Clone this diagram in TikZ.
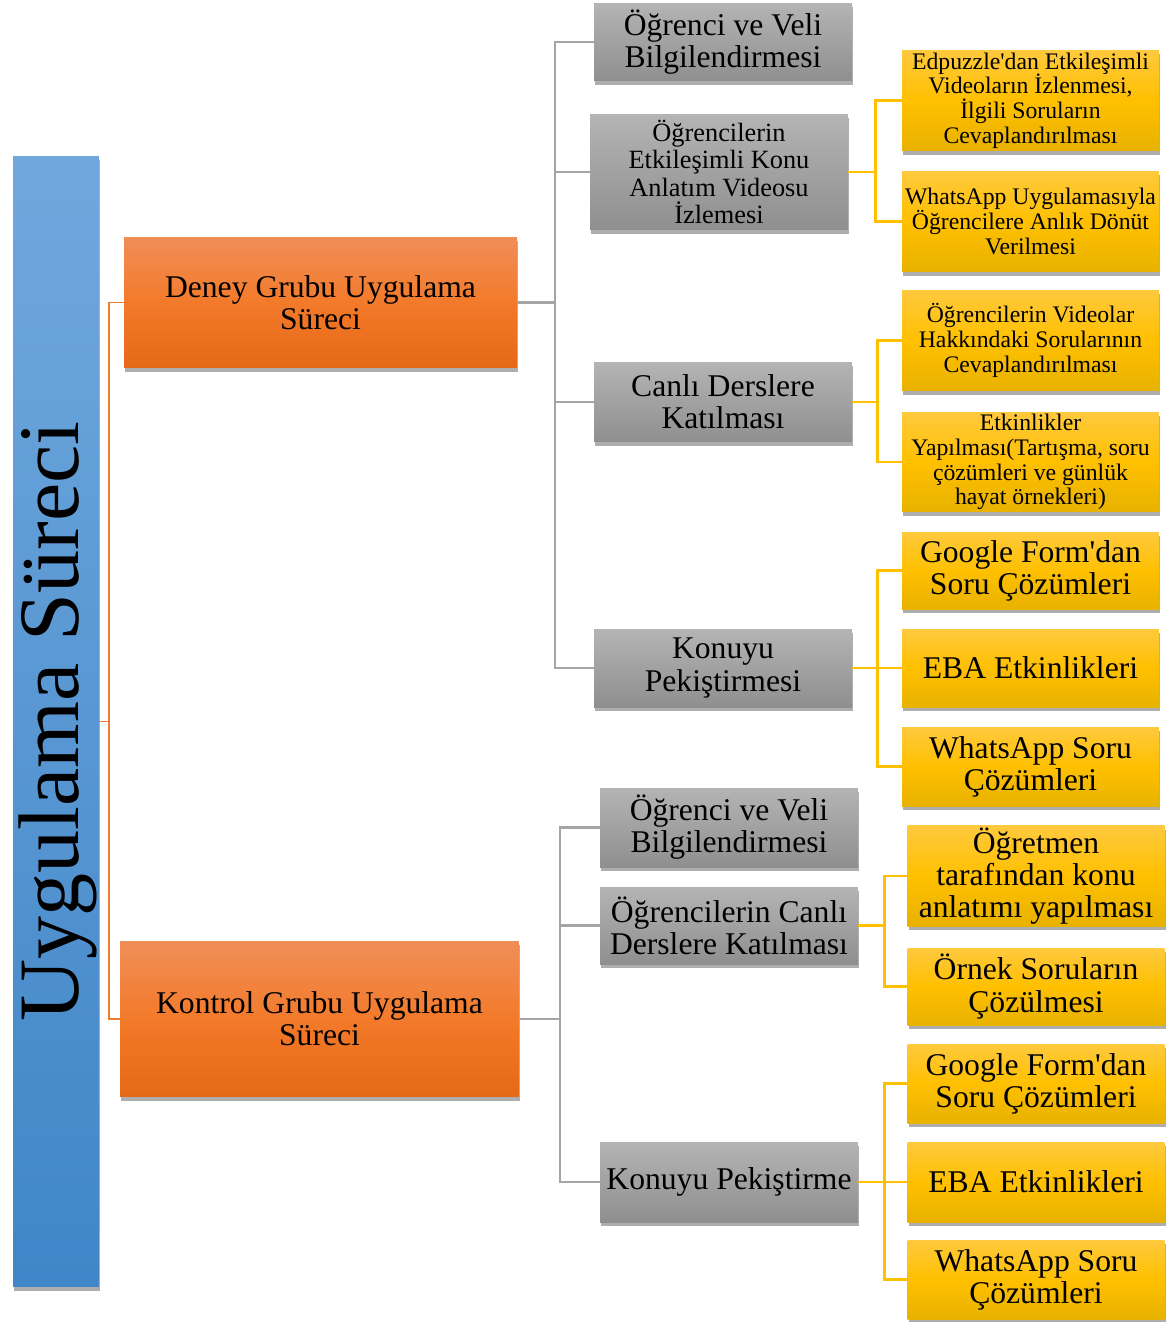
\documentclass[tikz,border=0pt]{standalone}
\usepackage{fontspec}
\setmainfont{Liberation Serif}
\usepackage{tikz}
\usetikzlibrary{shadows,positioning}

\definecolor{bartop}{RGB}{112,168,221}
\definecolor{barbot}{RGB}{64,134,200}
\definecolor{orgtop}{RGB}{240,142,88}
\definecolor{orgmid}{RGB}{243,122,42}
\definecolor{orgbot}{RGB}{229,104,24}
\definecolor{grytop}{RGB}{180,180,180}
\definecolor{grybot}{RGB}{143,143,143}
\definecolor{yeltop}{RGB}{255,201,62}
\definecolor{yelmid}{RGB}{255,192,0}
\definecolor{yelbot}{RGB}{232,178,0}
\definecolor{olinecol}{RGB}{237,125,49}
\definecolor{glinecol}{RGB}{165,165,165}
\definecolor{ylinecol}{RGB}{255,192,0}

\newcommand{\bigtxt}{\fontsize{18}{18.3}\selectfont}
\newcommand{\midtxt}{\fontsize{15}{15.6}\selectfont}
\newcommand{\smalltxt}{\fontsize{13.5}{14.1}\selectfont}

\begin{document}
\begin{tikzpicture}
  [x=0.02cm, y=-0.02cm,
   box/.style={rectangle, inner sep=1pt, align=center,
     drop shadow={shadow xshift=0.8pt, shadow yshift=-2.4pt, opacity=.45, fill=black!70}},
   bluebar/.style={box, minimum width=1.72cm, minimum height=22.62cm,
     top color=bartop, bottom color=barbot},
   phase/.style={box, font=\bigtxt, top color=orgtop, bottom color=orgbot, middle color=orgmid},
   part/.style={box, font=\bigtxt, minimum width=5.16cm, top color=grytop, bottom color=grybot},
   leaf/.style={box, font=\bigtxt, minimum width=5.14cm, top color=yeltop, bottom color=yelbot, middle color=yelmid},
   olink/.style={draw=olinecol, line width=1.1pt},
   glink/.style={draw=glinecol, line width=1.3pt},
   ylink/.style={draw=ylinecol, line width=1.6pt}]
  \useasboundingbox (0,0) rectangle (1168,1322);

  \node[bluebar] (bar) at (56,721.5) {};
  \node[rotate=90, font=\fontsize{49}{49}\selectfont] (title) at ([xshift=0.04cm]bar.center) {Uygulama Süreci};

  \node[phase, minimum width=7.86cm, minimum height=2.62cm] (deney) at (320.5,302.5) {Deney Grubu Uygulama\\Süreci};
  \node[phase, minimum width=7.98cm, minimum height=3.12cm] (kontrol) at (319.5,1019) {Kontrol Grubu Uygulama\\Süreci};

  \node[part, minimum height=1.56cm] (g1) at (723,42) {Öğrenci ve Veli\\Bilgilendirmesi};
  \node[part, minimum height=2.32cm, font=\midtxt] (g2) at (719,172) {Öğrencilerin\\Etkileşimli Konu\\Anlatım Videosu\\İzlemesi};
  \node[part, minimum height=1.6cm] (g3) at (723,402) {Canlı Derslere\\Katılması};
  \node[part, minimum height=1.56cm] (g4) at (723,668) {Konuyu\\Pekiştirmesi};
  \node[part, minimum height=1.58cm] (g5) at (729,827.5) {Öğrenci ve Veli\\Bilgilendirmesi};
  \node[part, minimum height=1.54cm] (g6) at (729,925.5) {Öğrencilerin Canlı\\Derslere Katılması};
  \node[part, minimum height=1.6cm] (g7) at (729,1182) {Konuyu Pekiştirme};

  \node[leaf, minimum height=2.02cm, font=\smalltxt] (y1) at (1030.5,100.5) {Edpuzzle\textquotesingle dan Etkileşimli\\Videoların İzlenmesi,\\İlgili Soruların\\Cevaplandırılması};
  \node[leaf, minimum height=2.02cm, font=\smalltxt] (y2) at (1030.5,221.5) {WhatsApp Uygulamasıyla\\Öğrencilere Anlık Dönüt\\Verilmesi};
  \node[leaf, minimum height=2.02cm, font=\smalltxt] (y3) at (1030.5,340.5) {Öğrencilerin Videolar\\Hakkındaki Sorularının\\Cevaplandırılması};
  \node[leaf, minimum height=2.0cm, font=\smalltxt] (y4) at (1030.5,462) {Etkinlikler\\Yapılması(Tartışma, soru\\çözümleri ve günlük\\hayat örnekleri)};
  \node[leaf, minimum height=1.54cm] (y5) at (1030.5,570.5) {Google Form\textquotesingle dan\\Soru Çözümleri};
  \node[leaf, minimum height=1.56cm] (y6) at (1030.5,668) {EBA Etkinlikleri};
  \node[leaf, minimum height=1.58cm] (y7) at (1030.5,766.5) {WhatsApp Soru\\Çözümleri};
  \node[leaf, minimum height=2.0cm] (y8) at (1036,876) {Öğretmen\\tarafından konu\\anlatımı yapılması};
  \node[leaf, minimum height=1.54cm] (y9) at (1036,986.5) {Örnek Soruların\\Çözülmesi};
  \node[leaf, minimum height=1.58cm] (y10) at (1036,1083.5) {Google Form\textquotesingle dan\\Soru Çözümleri};
  \node[leaf, minimum height=1.6cm] (y11) at (1036,1182) {EBA Etkinlikleri};
  \node[leaf, minimum height=1.58cm] (y12) at (1036,1279.5) {WhatsApp Soru\\Çözümleri};

  \foreach \t in {deney,kontrol}
    \draw[olink] (bar.east) -- ++(10,0) |- (\t.west);
  \foreach \t in {g1,g2,g3,g4}
    \draw[glink] (deney.east) -- ++(38,0) |- (\t.west);
  \foreach \t in {g5,g6,g7}
    \draw[glink] (kontrol.east) -- ++(41,0) |- (\t.west);
  \foreach \t in {y1,y2}
    \draw[ylink] (g2.east) -- ++(27,0) |- (\t.west);
  \foreach \t in {y3,y4}
    \draw[ylink] (g3.east) -- ++(25,0) |- (\t.west);
  \foreach \t in {y5,y6,y7}
    \draw[ylink] (g4.east) -- ++(25,0) |- (\t.west);
  \foreach \t in {y8,y9}
    \draw[ylink] (g6.east) -- ++(26,0) |- (\t.west);
  \foreach \t in {y10,y11,y12}
    \draw[ylink] (g7.east) -- ++(26,0) |- (\t.west);
\end{tikzpicture}
\end{document}
